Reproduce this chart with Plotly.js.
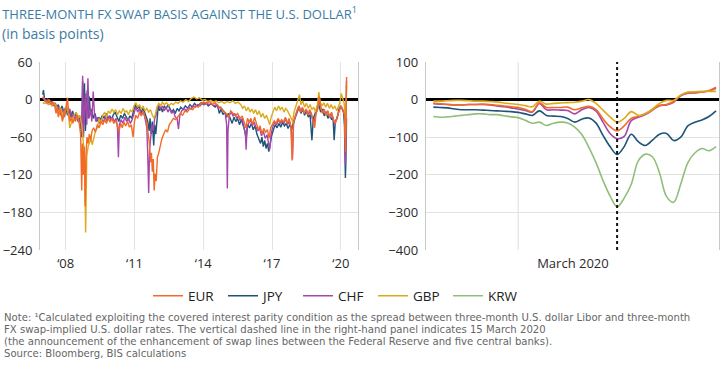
<!DOCTYPE html>
<html>
<head>
<meta charset="utf-8">
<script src="https://cdn.plot.ly/plotly-3.0.1.min.js"></script>
<style>html,body{margin:0;padding:0;background:#fff}#chart{width:720px;height:368px}</style>
</head>
<body>
<div id="chart"></div>
<script>
// ---------- Left panel: 2007–2020 (decimal years), basis points ----------
const eurX = [2007.00,2007.06,2007.12,2007.2,2007.28,2007.36,2007.44,2007.52,2007.58,2007.63,2007.68,2007.74,2007.8,2007.86,2007.92,2007.97,2008.03,2008.08,2008.13,2008.19,2008.25,2008.31,2008.37,2008.43,2008.49,2008.55,2008.6,2008.65,2008.7,2008.73,2008.77,2008.81,2008.85,2008.89,2008.93,2008.98,2009.03,2009.09,2009.15,2009.22,2009.3,2009.38,2009.46,2009.54,2009.62,2009.7,2009.78,2009.86,2009.94,2010.02,2010.1,2010.18,2010.26,2010.33,2010.4,2010.47,2010.54,2010.62,2010.7,2010.78,2010.86,2010.94,2011.0,2011.06,2011.14,2011.22,2011.3,2011.38,2011.46,2011.53,2011.6,2011.65,2011.7,2011.74,2011.78,2011.82,2011.86,2011.9,2011.95,2012.0,2012.06,2012.13,2012.2,2012.28,2012.36,2012.44,2012.52,2012.6,2012.7,2012.8,2012.9,2013.0,2013.1,2013.2,2013.3,2013.42,2013.54,2013.66,2013.78,2013.9,2014.02,2014.15,2014.28,2014.4,2014.52,2014.64,2014.76,2014.88,2015.0,2015.1,2015.2,2015.3,2015.4,2015.5,2015.6,2015.7,2015.78,2015.86,2015.93,2016.0,2016.08,2016.16,2016.24,2016.32,2016.4,2016.48,2016.56,2016.64,2016.72,2016.8,2016.87,2016.94,2017.02,2017.1,2017.18,2017.26,2017.34,2017.42,2017.5,2017.58,2017.66,2017.74,2017.82,2017.88,2017.93,2018.0,2018.08,2018.16,2018.24,2018.32,2018.4,2018.48,2018.56,2018.64,2018.72,2018.8,2018.86,2018.92,2019.0,2019.06,2019.12,2019.2,2019.28,2019.36,2019.44,2019.52,2019.6,2019.68,2019.76,2019.84,2019.92,2020.0,2020.06,2020.12,2020.16,2020.19,2020.21,2020.23,2020.25];
const eurY = [5,2,-2,-5,0,-8,-4,-10,-22,-12,-28,-15,-22,-35,-18,-25,-10,3,-22,-35,-28,-38,-30,-35,-25,-32,-40,-55,-145,-70,-120,-75,-170,-85,-60,-70,-55,-65,-50,-45,-52,-40,-45,-35,-40,-32,-38,-30,-36,-30,-38,-33,-42,-50,-38,-45,-36,-42,-35,-44,-40,-60,-35,-25,-30,-20,-26,-18,-28,-35,-55,-70,-100,-85,-115,-95,-145,-118,-130,-92,-85,-70,-62,-55,-48,-52,-40,-36,-30,-32,-26,-22,-25,-18,-20,-14,-16,-10,-12,-6,-4,-6,-3,-8,-5,-10,-14,-18,-22,-28,-18,-22,-26,-22,-30,-26,-38,-45,-30,-36,-30,-40,-28,-38,-48,-42,-55,-46,-52,-48,-62,-45,-40,-34,-38,-30,-36,-32,-36,-28,-38,-30,-42,-97,-38,-28,-18,-10,-20,-12,-22,-15,-24,-16,-22,-35,-45,-22,-15,5,-12,-22,-16,-25,-18,-28,-20,-32,-38,-28,-20,-10,-15,-18,-25,-60,-84,-20,36];

const jpyX = [2007.00,2007.03,2007.08,2007.14,2007.2,2007.28,2007.36,2007.44,2007.52,2007.6,2007.68,2007.76,2007.84,2007.92,2008.0,2008.08,2008.15,2008.22,2008.3,2008.38,2008.46,2008.54,2008.6,2008.66,2008.7,2008.74,2008.78,2008.82,2008.86,2008.9,2008.94,2008.98,2009.03,2009.08,2009.14,2009.2,2009.28,2009.36,2009.44,2009.52,2009.6,2009.68,2009.76,2009.84,2009.92,2010.0,2010.08,2010.16,2010.24,2010.32,2010.4,2010.48,2010.56,2010.64,2010.72,2010.8,2010.88,2010.96,2011.04,2011.12,2011.2,2011.28,2011.36,2011.44,2011.52,2011.58,2011.64,2011.68,2011.73,2011.78,2011.84,2011.88,2011.93,2011.98,2012.04,2012.1,2012.16,2012.22,2012.3,2012.38,2012.46,2012.54,2012.62,2012.7,2012.78,2012.86,2012.94,2013.02,2013.12,2013.22,2013.32,2013.42,2013.52,2013.62,2013.72,2013.82,2013.92,2014.02,2014.12,2014.22,2014.32,2014.42,2014.52,2014.62,2014.7,2014.78,2014.86,2014.94,2015.02,2015.1,2015.18,2015.26,2015.34,2015.42,2015.5,2015.58,2015.66,2015.74,2015.8,2015.87,2015.94,2016.02,2016.1,2016.18,2016.26,2016.34,2016.42,2016.5,2016.56,2016.62,2016.68,2016.74,2016.8,2016.86,2016.92,2016.98,2017.06,2017.14,2017.22,2017.3,2017.38,2017.46,2017.54,2017.62,2017.7,2017.78,2017.86,2017.94,2018.02,2018.1,2018.18,2018.26,2018.34,2018.42,2018.5,2018.58,2018.66,2018.74,2018.8,2018.88,2018.96,2019.04,2019.12,2019.2,2019.28,2019.36,2019.44,2019.52,2019.6,2019.66,2019.71,2019.76,2019.84,2019.92,2020.0,2020.06,2020.12,2020.16,2020.2,2020.22,2020.25];
const jpyY = [8,15,0,-5,2,-6,-2,-10,-5,-12,-8,-18,-10,-20,-12,-25,-15,-28,-18,-30,-20,-35,-25,-45,-60,30,-40,26,-50,-20,15,-30,5,-25,-15,-30,-22,-35,-28,-32,-25,-30,-22,-32,-26,-32,-24,-20,-28,-35,-25,-30,-22,-28,-33,-26,-30,-18,-8,-15,-10,-22,-14,-20,-30,-35,-50,-30,-55,-35,-73,-40,-55,-30,-10,-18,-12,-20,-10,-15,-8,-14,-20,-16,-22,-14,-18,-12,-16,-10,-14,-8,-12,-6,-10,-8,-5,-8,-5,-10,-6,-9,-12,-8,-22,-15,-24,-20,-28,-22,-30,-38,-28,-35,-30,-40,-32,-42,-48,-62,-40,-45,-38,-48,-42,-55,-62,-70,-60,-75,-65,-78,-70,-83,-72,-58,-48,-40,-45,-38,-44,-36,-42,-38,-46,-40,-48,-35,-28,-18,-12,-22,-15,-25,-18,-28,-24,-65,-30,-22,-12,-8,-20,-15,-26,-20,-30,-24,-32,-28,-65,-35,-30,-15,-10,-14,-20,-40,-125,-100,-30];

const chfX = [2007.0,2007.08,2007.16,2007.24,2007.32,2007.4,2007.48,2007.56,2007.62,2007.7,2007.78,2007.86,2007.94,2008.02,2008.1,2008.18,2008.26,2008.34,2008.42,2008.5,2008.58,2008.64,2008.7,2008.74,2008.78,2008.82,2008.86,2008.92,2008.97,2009.02,2009.08,2009.14,2009.2,2009.26,2009.32,2009.4,2009.48,2009.56,2009.64,2009.72,2009.8,2009.88,2009.96,2010.04,2010.12,2010.2,2010.26,2010.3,2010.34,2010.42,2010.5,2010.58,2010.66,2010.74,2010.82,2010.9,2010.98,2011.06,2011.14,2011.22,2011.3,2011.38,2011.46,2011.54,2011.58,2011.62,2011.66,2011.7,2011.76,2011.82,2011.88,2011.94,2012.0,2012.06,2012.14,2012.22,2012.3,2012.38,2012.46,2012.54,2012.62,2012.7,2012.78,2012.86,2012.92,2012.98,2013.06,2013.16,2013.26,2013.36,2013.46,2013.56,2013.66,2013.76,2013.86,2013.96,2014.06,2014.16,2014.26,2014.36,2014.46,2014.56,2014.66,2014.76,2014.86,2014.96,2015.02,2015.05,2015.08,2015.14,2015.22,2015.3,2015.38,2015.46,2015.54,2015.62,2015.7,2015.78,2015.84,2015.87,2015.91,2015.98,2016.06,2016.14,2016.22,2016.3,2016.38,2016.46,2016.54,2016.62,2016.7,2016.78,2016.84,2016.9,2016.96,2017.04,2017.12,2017.2,2017.28,2017.36,2017.44,2017.52,2017.6,2017.68,2017.76,2017.84,2017.89,2017.94,2018.02,2018.1,2018.18,2018.26,2018.34,2018.42,2018.5,2018.58,2018.66,2018.74,2018.82,2018.9,2018.98,2019.04,2019.1,2019.18,2019.26,2019.34,2019.42,2019.5,2019.58,2019.66,2019.74,2019.82,2019.9,2019.98,2020.06,2020.12,2020.16,2020.2,2020.23,2020.25];
const chfY = [3,-2,-5,0,-8,-3,-10,-6,-20,-12,-25,-15,-28,-12,-20,-15,-30,-22,-32,-25,-35,-30,-50,38,-60,-20,10,-40,34,-30,-15,-35,13,-25,-35,-28,-38,-30,-36,-28,-34,-26,-32,-28,-35,-30,-45,-92,-40,-32,-38,-28,-35,-30,-38,-32,-20,-12,-20,-14,-25,-18,-30,-45,-90,-149,-80,-60,-40,-50,-30,-25,-12,-8,-15,-10,-18,-12,-20,-14,-22,-18,-28,-30,-47,-25,-18,-14,-18,-12,-15,-10,-12,-8,-10,-6,-8,-5,-9,-6,-10,-8,-14,-12,-18,-22,-40,-142,-50,-25,-20,-26,-22,-30,-26,-34,-30,-45,-55,-80,-45,-38,-32,-42,-36,-44,-50,-45,-58,-50,-62,-56,-68,-80,-55,-42,-36,-40,-32,-38,-34,-38,-30,-40,-34,-45,-95,-40,-26,-16,-10,-20,-14,-22,-16,-25,-18,-28,-40,-24,-14,0,-10,-20,-15,-24,-18,-28,-22,-30,-40,-30,-22,-12,-15,-20,-28,-104,-20,30];

const gbpX = [2007.0,2007.08,2007.16,2007.24,2007.32,2007.4,2007.48,2007.56,2007.62,2007.7,2007.76,2007.82,2007.88,2007.94,2008.0,2008.06,2008.12,2008.18,2008.24,2008.3,2008.38,2008.46,2008.54,2008.62,2008.7,2008.76,2008.82,2008.87,2008.92,2008.98,2009.04,2009.1,2009.16,2009.22,2009.3,2009.38,2009.46,2009.54,2009.62,2009.7,2009.78,2009.86,2009.94,2010.02,2010.1,2010.18,2010.26,2010.34,2010.42,2010.5,2010.58,2010.66,2010.74,2010.82,2010.9,2010.98,2011.06,2011.14,2011.22,2011.3,2011.38,2011.46,2011.54,2011.62,2011.7,2011.78,2011.86,2011.92,2011.98,2012.06,2012.14,2012.22,2012.3,2012.4,2012.5,2012.6,2012.7,2012.8,2012.9,2013.0,2013.12,2013.24,2013.36,2013.48,2013.6,2013.72,2013.84,2013.96,2014.08,2014.2,2014.32,2014.44,2014.56,2014.68,2014.8,2014.92,2015.04,2015.16,2015.28,2015.4,2015.52,2015.64,2015.72,2015.8,2015.88,2015.96,2016.04,2016.12,2016.2,2016.28,2016.36,2016.44,2016.52,2016.6,2016.68,2016.76,2016.84,2016.9,2016.96,2017.04,2017.12,2017.2,2017.28,2017.36,2017.44,2017.52,2017.6,2017.68,2017.76,2017.84,2017.9,2017.96,2018.04,2018.12,2018.2,2018.26,2018.34,2018.42,2018.5,2018.58,2018.66,2018.74,2018.82,2018.9,2018.98,2019.04,2019.1,2019.18,2019.26,2019.34,2019.42,2019.5,2019.58,2019.66,2019.74,2019.82,2019.9,2019.96,2020.02,2020.08,2020.14,2020.18,2020.2,2020.22,2020.25];
const gbpY = [-5,-6,-4,-8,-5,-10,-6,-8,-15,-25,-12,-18,-32,-20,-15,-10,-25,-45,-38,-30,-25,-20,-30,-25,-40,-60,-90,-212,-90,-75,-70,-62,-72,-60,-50,-45,-30,-38,-25,-20,-28,-18,-22,-15,-20,-16,-24,-18,-22,-14,-20,-18,-24,-16,-20,-10,-5,-12,-8,-15,-10,-18,-14,-20,-16,-25,-30,-22,-12,-6,-10,-4,-8,-5,-10,-6,-8,-4,-6,-2,-4,0,-3,2,4,1,3,-1,0,-3,-1,-4,-2,-5,-3,-6,-3,-5,-2,-6,-4,-8,-14,-10,-18,-12,-20,-15,-22,-16,-24,-18,-28,-22,-30,-25,-35,-40,-28,-20,-12,-18,-10,-16,-12,-20,-14,-18,-24,-30,-35,-20,-10,-4,8,-8,-2,-12,-6,-14,-8,-16,-12,-20,-8,12,-4,-10,-5,-12,-6,-14,-8,-15,-10,-18,-12,-5,10,2,-5,-20,-60,-30,22];

const leftTickVals = [2008, 2011, 2014, 2017, 2020];
const leftTickText = ["‘08", "‘11", "‘14", "‘17", "‘20"];

// ---------- Right panel: daily, 18 Feb – 29 Mar 2020 ----------
const days = ["2020-02-18","2020-02-19","2020-02-20","2020-02-21","2020-02-22","2020-02-23","2020-02-24","2020-02-25","2020-02-26","2020-02-27","2020-02-28","2020-02-29",
"2020-03-01","2020-03-02","2020-03-03","2020-03-04","2020-03-05","2020-03-06","2020-03-07","2020-03-08","2020-03-09","2020-03-10","2020-03-11","2020-03-12","2020-03-13","2020-03-14","2020-03-15","2020-03-16","2020-03-17","2020-03-18","2020-03-19","2020-03-20","2020-03-21","2020-03-22","2020-03-23","2020-03-24","2020-03-25","2020-03-26","2020-03-27","2020-03-28","2020-03-29"];
const eurM = [-9,-11,-13,-14,-14,-13,-13,-12,-13,-15,-17,-19,-21,-26,-32,-9,-21,-21,-21,-20,-27,-22,-18,-26,-51,-72,-83,-70,-50,-45,-37,-27,-16,-13,-5,12,18,19,20,24,33];
const jpyM = [-20,-21,-22,-25,-27,-27,-27,-28,-29,-30,-31,-32,-34,-38,-42,-30,-42,-44,-45,-50,-60,-52,-49,-62,-95,-125,-146,-125,-92,-112,-122,-108,-92,-90,-109,-100,-70,-60,-54,-45,-30];
const chfM = [-11,-12,-13,-14,-14,-13,-13,-13,-14,-17,-19,-22,-25,-29,-33,-10,-27,-27,-28,-29,-38,-27,-21,-30,-60,-90,-104,-98,-56,-47,-40,-28,-16,-14,-7,10,17,18,20,23,30];
const gbpM = [-4,-4,-3,-2,-2,-3,-4,-4,-5,-6,-9,-11,-13,-16,-19,-4,-12,-10,-9,-8,-7,-4,0,-10,-28,-46,-60,-50,-32,-42,-38,-25,-10,-2,-2,12,20,21,22,22,22];
const krwM = [-45,-47,-46,-44,-42,-40,-38,-38,-40,-40,-43,-46,-48,-55,-63,-60,-69,-63,-60,-62,-73,-93,-127,-167,-215,-256,-285,-262,-225,-163,-145,-152,-195,-258,-273,-225,-168,-142,-130,-136,-125];
const announcementDate = "2020-03-15";
const monthStart = "2020-03-01";
const monthLabelPos = "2020-03-08 18:00";

const noteLines = [
  "Note: ¹Calculated exploiting the covered interest parity condition as the spread between three-month U.S. dollar Libor and three-month",
  "FX swap-implied U.S. dollar rates. The vertical dashed line in the right-hand panel indicates 15 March 2020",
  "(the announcement of the enhancement of swap lines between the Federal Reserve and five central banks).",
  "Source: Bloomberg, BIS calculations"
];

const C = {EUR:"#f26a26", JPY:"#1d5478", CHF:"#a546ab", GBP:"#dcaa1c", KRW:"#8fbf7a"};

const traces = [];
function L(x, y, name, xa, ya, show, w, spline, rank){
  traces.push({type:"scatter", mode:"lines", x:x, y:y, name:name, xaxis:xa, yaxis:ya,
    showlegend:show, legendrank:rank, hoverinfo:"skip",
    line:{color:C[name], width:w, shape: spline ? "spline" : "linear", smoothing: 1}});
}
L(jpyX, jpyY, "JPY", "x", "y", false, 1.4, false, 2);
L(chfX, chfY, "CHF", "x", "y", false, 1.4, false, 3);
L(gbpX, gbpY, "GBP", "x", "y", false, 1.4, false, 4);
L(eurX, eurY, "EUR", "x", "y", false, 1.4, false, 1);

L(days, krwM, "KRW", "x2", "y2", true, 1.6, true, 5);
L(days, jpyM, "JPY", "x2", "y2", true, 1.6, true, 2);
L(days, chfM, "CHF", "x2", "y2", true, 1.6, true, 3);
L(days, eurM, "EUR", "x2", "y2", true, 1.6, true, 1);
L(days, gbpM, "GBP", "x2", "y2", true, 1.6, true, 4);

const FONT = "Open Sans, Roboto, sans-serif";
const tickFont = {family: FONT, size: 13, color: "#2b2b2b"};
const grid = "#e3e3e3";
const H = 368, W = 720;
const yDom = [1 - 250/H, 1 - 62/H];

const annotations = [
  {xref: "paper", yref: "paper", x: 0.0, xanchor: "left", y: 1 - 34/H, yanchor: "middle", showarrow: false,
   text: "(in basis points)", font: {family: FONT, size: 14, color: "#3a7ca5"}}
];
noteLines.forEach((t, i) => annotations.push({
  xref: "paper", yref: "paper", x: 0.003, xanchor: "left", y: 1 - (317 + 12.2*i)/H, yanchor: "middle",
  showarrow: false, align: "left", text: t, font: {family: "DejaVu Sans, sans-serif", size: 10.1, color: "#666"}
}));

const layout = {
  width: W, height: H,
  margin: {l:0, r:0, t:0, b:0},
  paper_bgcolor: "#fff", plot_bgcolor: "#fff",
  font: {family: FONT},
  title: {text: "THREE-MONTH FX SWAP BASIS AGAINST THE U.S. DOLLAR<sup>1</sup>",
          x: 0.003, xanchor: "left", y: 1 - 14/H, yanchor: "middle",
          font: {family: FONT, size: 13, color: "#3a7ca5"}},
  xaxis: {domain: [40/W, 358/W], range: [2006.88, 2020.75], tickvals: leftTickVals, ticktext: leftTickText,
          showgrid: true, gridcolor: grid, gridwidth: 1, zeroline: false, showline: false,
          ticks: "", tickfont: tickFont, ticklabelstandoff: 4},
  yaxis: {domain: yDom, range: [-240, 60], dtick: 60, tick0: 0, showgrid: true, gridcolor: grid,
          zeroline: true, zerolinecolor: "#000", zerolinewidth: 2.5,
          showline: true, linecolor: "#c8c8c8", mirror: true, ticks: "", tickfont: tickFont, ticklabelstandoff: 4},
  xaxis2: {domain: [425.7/W, 719/W], type: "date", range: ["2020-02-16 22:00", "2020-03-29 10:00"],
           tickvals: [monthLabelPos], ticktext: ["March 2020"], showgrid: false, zeroline: false,
           ticks: "", tickfont: tickFont, ticklabelstandoff: 4, anchor: "y2"},
  yaxis2: {domain: yDom, range: [-400, 100], dtick: 100, tick0: 0, anchor: "x2", showgrid: true, gridcolor: grid,
           zeroline: true, zerolinecolor: "#000", zerolinewidth: 2.5,
           showline: true, linecolor: "#c8c8c8", mirror: true, ticks: "", tickfont: tickFont, ticklabelstandoff: 4},
  shapes: [
    {type: "line", xref: "x2", yref: "y2 domain", x0: monthStart, x1: monthStart, y0: 0, y1: 1, layer: "below",
     line: {color: grid, width: 1.2}},
    {type: "line", xref: "x2", yref: "y2 domain", x0: announcementDate, x1: announcementDate, y0: 0, y1: 1,
     line: {color: "#111", width: 2, dash: "dot"}}
  ],
  legend: {orientation: "h", x: 0.466, xanchor: "center", y: 1 - 296/H, yanchor: "middle",
           entrywidth: 30, entrywidthmode: "pixels", itemwidth: 30,
           font: {family: FONT, size: 13.5, color: "#222"}, bgcolor: "rgba(0,0,0,0)", traceorder: "normal"},
  annotations: annotations
};

Plotly.newPlot("chart", traces, layout, {staticPlot: true, displayModeBar: false});
</script>
</body>
</html>
